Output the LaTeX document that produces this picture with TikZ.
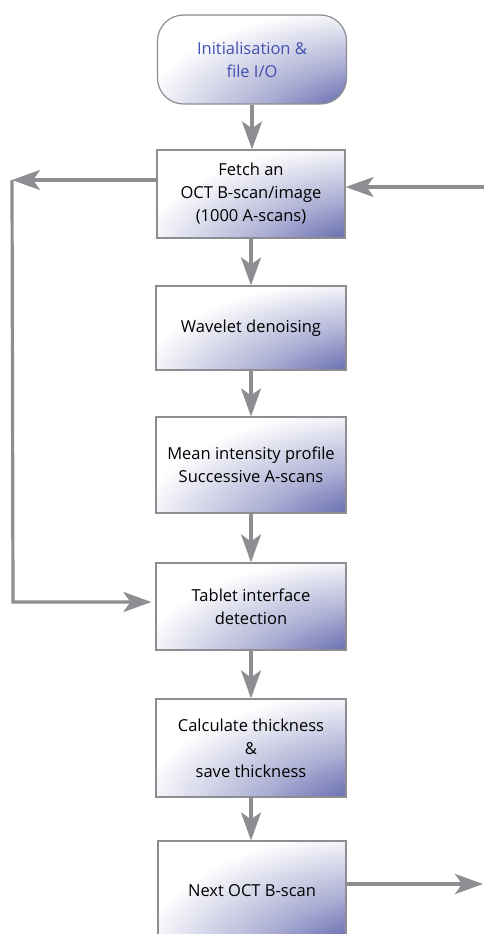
\documentclass[tikz,border=0pt]{standalone}
\usepackage{fontspec}
\setmainfont{Open Sans}
\usetikzlibrary{arrows.meta}
\definecolor{flowgray}{HTML}{8C8E91}
\definecolor{flowblue}{HTML}{2E3592}
\definecolor{titleblue}{HTML}{4350B0}
\pgfdeclareradialshading{cornerblue}{\pgfpoint{50bp}{-50bp}}{%
  color(0bp)=(flowblue); color(20bp)=(flowblue!85!white);
  color(40bp)=(flowblue!40!white); color(64bp)=(white); color(200bp)=(white)}

\begin{document}
\begin{tikzpicture}[x=1pt, y=-1pt,
    process/.style ={rectangle, draw=flowgray, line width=1.2pt, shading=cornerblue,
                     align=center, minimum width=190pt, font=\fontsize{16.5}{23}\selectfont},
    start/.style ={process, rounded corners=26pt, text=titleblue},
    flow/.style ={draw=flowgray, line width=3.2pt,
                  -{Stealth[length=28pt, width=20pt, inset=7pt]}}]
   \clip (0,0) rectangle (484,934);
   \node[start, minimum width=189pt, minimum height=89pt] (init) at (252,59.5) {Initialisation \&\\file I/O};
   \node[process, minimum width=188pt, minimum height=88pt] (fetch) at (251,194) {Fetch an\\OCT B-scan/image\\(1000 A-scans)};
   \node[process, minimum height=84pt] (wavelet) at (251,328) {Wavelet denoising};
   \node[process, minimum height=96pt] (mean) at (251,465) {Mean intensity profile\\Successive A-scans};
   \node[process, minimum height=87pt] (tablet) at (251,606.5) {Tablet interface\\detection};
   \node[process, minimum height=98pt] (calc) at (251,748) {Calculate thickness\\\&\\save thickness};
   \node[process, minimum width=188pt, minimum height=99pt] (next) at (252,890.5) {Next OCT B-scan};
   \coordinate (outL) at (12,180);
   \coordinate (corner) at (13,602);
   \coordinate (inR) at (484,187);
   \coordinate (outR) at (484,884);
   \draw[flow] (init) to (init |- fetch.north);
   \draw[flow] (fetch) to (wavelet);
   \draw[flow] (wavelet) to (mean);
   \draw[flow] (mean) to (tablet);
   \draw[flow] (tablet) to (calc);
   \draw[flow] (calc) to (calc |- next.north);
   \draw[flow] (fetch.west |- outL) to (outL);
   \draw[flow, shorten >=4pt] (outL) -- (corner) -- (corner -| tablet.west);
   \draw[flow] (inR) to (inR -| fetch.east);
   \draw[flow, shorten >=1pt] (next.east |- outR) to (outR);
 \end{tikzpicture}
\end{document}
